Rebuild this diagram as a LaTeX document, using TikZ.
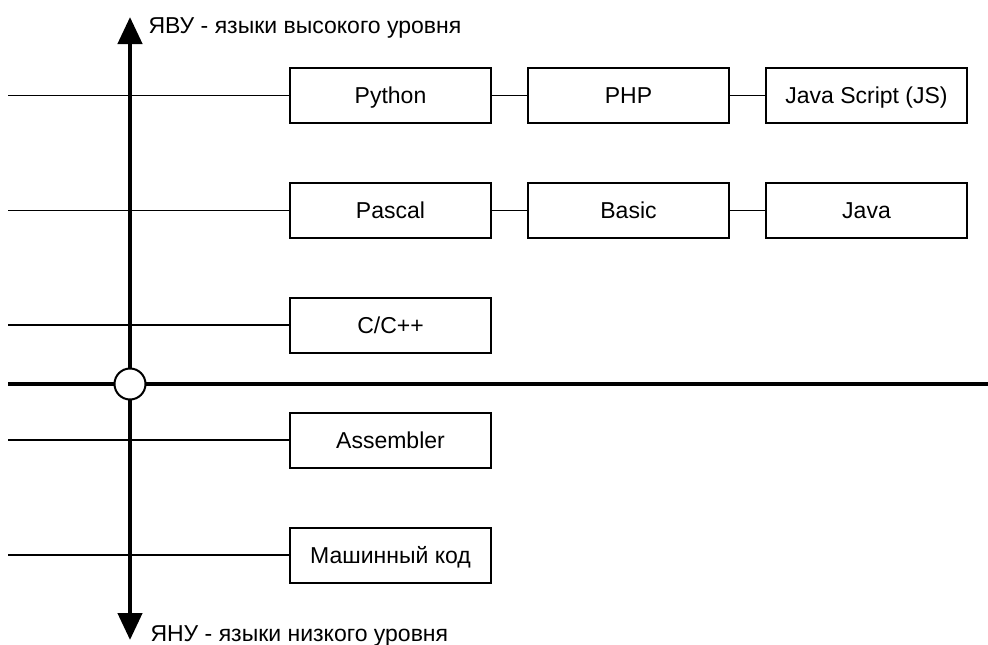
\documentclass[tikz,border=0pt]{standalone}
\usepackage{fontspec}
\setmainfont{Liberation Sans}
\usetikzlibrary{calc,arrows.meta,positioning}

\begin{document}
\begin{tikzpicture}[x=1pt,y=-1pt]
%
% Styles
%
\tikzset{every node/.style={font=\fontsize{23}{27}\selectfont}};%
\tikzset{boite/.style={draw, line width=2pt, minimum width=201pt, minimum height=55pt, inner sep=0pt, outer sep=0pt, text height=16.4pt, text depth=0pt}};%
\tikzset{trait/.style={line width=1.5pt}};%
\tikzset{axe/.style={line width=4.5pt}};%
\tikzset{fleche/.style={axe, {Triangle[width=24pt,length=27pt]}-{Triangle[width=24pt,length=27pt]}}};%

%
% Macros
%
\pgfmathsetmacro{\xaxe}{130};%
\pgfmathsetmacro{\xcol}{390.5};%
\pgfmathsetmacro{\ecart}{37};%

\useasboundingbox (0,0) rectangle (988,645);%

%
% Axes
%
\coordinate (haut) at (\xaxe,17);%
\coordinate (bas) at (\xaxe,640);%
\coordinate (gauche) at (8,384);%
\coordinate (droite) at (988,384);%
\draw[axe] (gauche) -- (droite);%
\draw[fleche] (haut) -- (bas);%
\node[draw, circle, fill=white, line width=2pt, minimum size=31pt, inner sep=0pt] (centre) at (\xaxe,384) {};%
\node[anchor=base west] (yvu) at (145,33) {ЯВУ - языки высокого уровня};%
\node[anchor=base west] (ynu) at (147,641) {ЯНУ - языки низкого уровня};%

%
% Languages
%
\node[boite] (python) at (\xcol,95.5) {Python};%
\node[boite, right=\ecart pt of python] (php) {PHP};%
\node[boite, right=\ecart pt of php] (js) {Java Script (JS)};%
\node[boite] (pascal) at (\xcol,210.5) {Pascal};%
\node[boite, right=\ecart pt of pascal] (basic) {Basic};%
\node[boite, right=\ecart pt of basic] (java) {Java};%
\node[boite] (cpp) at (\xcol,325) {C/C++};%
\node[boite] (asm) at (\xcol,440) {Assembler};%
\node[boite] (code) at (\xcol,555) {Машинный код};%

% Links between the boxes
\draw[trait] (python) -- (php);%
\draw[trait] (php) -- (js);%
\draw[trait] (pascal) -- (basic);%
\draw[trait] (basic) -- (java);%

% Lines coming from the left edge
\foreach \nom in {python,pascal,cpp,asm,code}
{
    \coordinate (d-\nom) at (8,0 |- \nom.west);%
    \draw[trait] (d-\nom) -- (\nom.west);%
}
\end{tikzpicture}
\end{document}
